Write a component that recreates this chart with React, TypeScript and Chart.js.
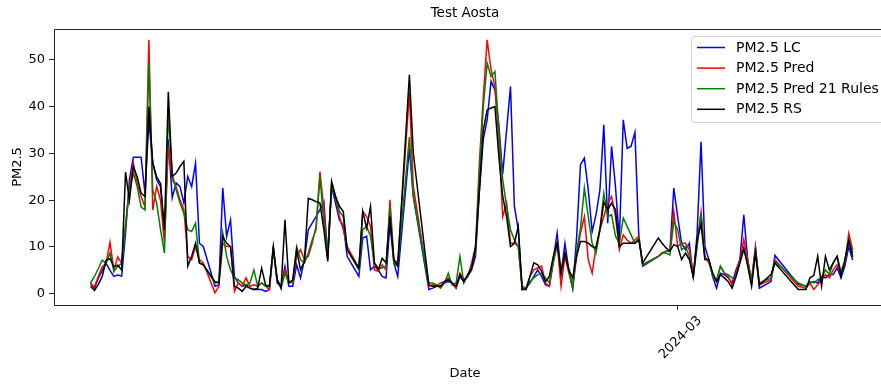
import { useEffect, useRef } from 'react';
import { Chart, registerables } from 'chart.js';

Chart.register(...registerables);

// Day offsets counted from 2023-10-01 (day 152 = 2024-03-01)
const START_DATE = '2023-10-01';
const days = [
  1, 2, 3, 4, 5, 6, 7, 8, 9, 10,
  11, 12, 13, 14, 15, 16, 17, 18, 19, 20,
  21, 22, 23, 24, 25, 26, 27, 28, 29, 30,
  33, 34, 35, 36, 37, 38, 39, 40, 41, 42,
  43, 44, 45, 46, 47, 48, 49, 50, 51, 52,
  53, 54, 55, 56, 57, 58, 59, 60, 61, 62,
  63, 64, 65, 66, 67, 70, 71, 72, 73, 74,
  75, 76, 77, 78, 79, 80, 83, 84, 88, 89,
  90, 91, 92, 93, 94, 95, 96, 97, 98, 99,
  100, 101, 102, 103, 104, 105, 106, 107, 108, 109,
  110, 111, 112, 113, 114, 115, 116, 117, 118, 119,
  120, 121, 122, 123, 124, 125, 126, 127, 128, 129,
  130, 131, 132, 133, 134, 135, 136, 137, 138, 139,
  140, 141, 142, 143, 147, 148, 149, 150, 151, 152,
  153, 154, 155, 156, 157, 158, 159, 160, 161, 162,
  163, 164, 165, 166, 167, 168, 169, 170, 171, 172,
  173, 176, 177, 183, 185, 186, 187, 188, 189, 190,
  191, 192, 193, 194, 195, 196, 197,
];

const pm25LC = [
  2.3, 1.2, 3.3, 5.0, 6.5, 5.0, 3.7, 4.0, 3.8, 12.9,
  24.4, 29.2, 29.2, 29.2, 21.5, 37.0, 28.0, 24.4, 22.9, 12.9,
  33.0, 20.5, 23.7, 22.9, 19.4, 25.1, 22.9, 27.9, 10.8, 10.1,
  1.6, 1.9, 22.6, 12.3, 15.8, 3.7, 2.3, 1.6, 1.9, 1.2,
  0.9, 0.9, 0.9, 0.5, 0.9, 10.1, 2.3, 1.6, 5.9, 1.6,
  1.6, 6.2, 3.4, 7.3, 13.7, 15.1, 16.5, 18.0, 19.7, 8.0,
  22.9, 19.4, 15.8, 14.7, 8.0, 3.7, 11.9, 12.3, 5.1, 5.9,
  5.1, 3.7, 3.4, 15.1, 6.6, 3.7, 31.0, 20.8, 0.9, 1.2,
  1.6, 1.6, 2.3, 2.6, 2.3, 1.2, 3.7, 2.6, 3.7, 5.1,
  8.0, 22.0, 33.0, 37.2, 45.4, 43.6, 36.1, 25.6, 35.0, 44.3,
  18.7, 13.7, 0.9, 1.2, 2.3, 3.7, 5.1, 3.7, 1.9, 1.6,
  7.3, 13.0, 4.1, 10.8, 5.1, 1.2, 12.0, 27.6, 29.0, 22.2,
  13.3, 16.9, 22.2, 36.1, 15.1, 31.5, 22.9, 11.5, 37.2, 31.1,
  31.5, 34.5, 12.3, 5.9, 8.0, 8.7, 9.1, 9.1, 22.6, 16.5,
  10.8, 9.4, 10.8, 3.4, 13.0, 32.5, 10.1, 7.3, 3.7, 1.2,
  4.4, 4.1, 3.4, 2.3, 5.1, 7.3, 16.9, 7.3, 2.3, 9.8,
  1.2, 2.6, 8.2, 2.0, 1.6, 2.3, 2.6, 2.3, 3.7, 3.4,
  4.1, 4.1, 5.5, 3.4, 5.9, 10.1, 7.2,
];

const pm25Pred = [
  2.0, 1.5, 3.7, 5.8, 6.5, 11.0, 5.0, 7.9, 6.5, 15.0,
  22.9, 27.9, 23.6, 20.8, 18.6, 54.3, 17.9, 23.0, 20.0, 10.8,
  31.5, 24.4, 22.9, 20.1, 18.0, 8.0, 7.3, 10.1, 7.3, 6.6,
  0.2, 1.6, 10.8, 10.1, 10.1, 0.5, 2.3, 1.6, 3.4, 1.6,
  1.9, 1.6, 2.3, 1.6, 0.9, 9.4, 3.0, 1.6, 5.1, 2.6,
  2.3, 8.0, 9.4, 7.3, 8.0, 10.8, 14.4, 26.1, 18.0, 7.3,
  23.7, 20.8, 16.5, 13.7, 10.1, 5.5, 17.6, 16.5, 14.4, 5.1,
  4.8, 6.2, 5.1, 20.1, 7.3, 6.6, 43.0, 23.0, 1.6, 1.9,
  1.7, 2.3, 2.6, 3.4, 2.3, 1.2, 4.4, 3.0, 3.7, 6.6,
  10.0, 28.0, 42.0, 54.3, 47.9, 44.3, 32.9, 16.5, 19.4, 10.8,
  10.8, 10.1, 0.9, 1.2, 3.7, 5.1, 5.5, 5.9, 2.3, 1.6,
  6.6, 10.8, 1.6, 8.0, 4.4, 1.2, 8.0, 13.0, 16.5, 7.3,
  4.4, 10.1, 13.7, 16.5, 19.4, 20.8, 16.5, 9.4, 12.6, 11.5,
  10.8, 11.5, 12.3, 6.2, 8.0, 8.7, 9.1, 9.1, 17.6, 10.1,
  10.8, 10.8, 9.4, 4.1, 10.8, 17.5, 8.0, 6.6, 4.4, 2.6,
  5.9, 4.4, 3.7, 1.9, 4.4, 7.3, 11.6, 7.3, 3.0, 10.1,
  1.9, 3.0, 7.3, 1.6, 1.2, 2.3, 0.9, 1.9, 3.0, 4.1,
  3.4, 5.1, 6.2, 4.1, 6.6, 12.9, 9.4,
];

const pm25Pred21 = [
  2.3, 3.7, 5.4, 7.2, 6.5, 8.7, 4.8, 5.8, 6.5, 14.4,
  22.2, 25.8, 22.9, 18.6, 17.9, 49.6, 22.2, 19.4, 13.7, 8.7,
  38.6, 25.8, 22.2, 19.4, 17.2, 13.7, 13.3, 15.1, 6.6, 6.2,
  2.3, 2.6, 13.0, 8.0, 5.1, 3.4, 3.0, 2.3, 1.9, 2.3,
  5.1, 1.6, 2.3, 1.6, 1.6, 9.4, 3.0, 1.2, 4.4, 2.3,
  2.6, 10.1, 7.3, 6.6, 8.7, 11.5, 13.7, 25.1, 15.1, 9.4,
  22.9, 20.8, 17.6, 16.5, 9.4, 5.1, 13.7, 14.4, 12.3, 6.6,
  5.5, 5.5, 5.9, 18.7, 6.6, 5.9, 33.5, 20.8, 2.3, 2.3,
  1.9, 1.2, 2.3, 4.4, 1.9, 2.3, 8.0, 2.3, 4.1, 5.5,
  9.0, 26.0, 40.0, 49.3, 46.4, 47.5, 35.0, 24.4, 18.7, 13.7,
  11.5, 10.1, 1.6, 1.2, 2.6, 3.4, 4.1, 4.4, 3.4, 2.3,
  6.6, 10.8, 5.1, 8.7, 5.1, 1.2, 9.0, 14.0, 22.6, 16.5,
  10.8, 8.7, 13.7, 21.5, 16.5, 16.9, 12.3, 10.8, 16.2, 14.4,
  12.6, 10.8, 11.9, 6.2, 8.0, 8.7, 8.7, 8.3, 15.5, 13.7,
  9.4, 10.1, 8.0, 3.4, 10.1, 17.2, 7.3, 7.3, 3.7, 3.0,
  5.9, 4.4, 4.1, 3.4, 3.7, 6.6, 9.4, 6.6, 2.6, 9.4,
  2.3, 3.4, 6.9, 2.3, 1.6, 2.6, 2.3, 3.0, 3.4, 5.1,
  4.1, 6.6, 8.0, 4.8, 6.9, 11.5, 8.7,
];

const pm25RS = [
  1.6, 0.7, 2.0, 3.7, 7.2, 7.5, 5.8, 6.1, 5.1, 26.0,
  20.0, 27.2, 25.0, 21.5, 20.8, 40.0, 27.9, 25.0, 23.6, 13.7,
  43.2, 25.1, 25.8, 27.2, 28.3, 5.9, 8.0, 10.8, 6.6, 6.2,
  2.6, 2.3, 12.3, 10.8, 10.1, 1.6, 1.2, 0.5, 1.6, 1.2,
  0.9, 1.2, 5.5, 1.9, 1.6, 10.1, 3.0, 1.2, 15.8, 2.3,
  3.0, 9.4, 5.1, 6.9, 20.4, 20.1, 19.7, 19.4, 13.7, 6.9,
  24.0, 20.8, 18.7, 17.6, 9.4, 5.5, 17.6, 14.0, 18.7, 6.6,
  5.1, 7.6, 6.6, 16.5, 7.3, 5.9, 46.8, 30.1, 1.9, 1.6,
  1.6, 1.6, 2.6, 3.0, 2.3, 1.6, 4.1, 2.6, 4.1, 5.5,
  10.0, 22.0, 35.0, 39.3, 39.7, 40.0, 29.4, 20.8, 16.5, 10.1,
  10.8, 14.4, 0.9, 0.9, 3.7, 6.6, 6.2, 4.8, 2.6, 3.7,
  8.0, 10.8, 4.4, 8.7, 5.1, 3.4, 8.0, 11.2, 11.2, 10.8,
  10.1, 9.8, 13.7, 19.6, 18.0, 19.4, 18.0, 10.1, 10.8, 10.8,
  10.8, 10.8, 11.5, 6.6, 11.9, 10.8, 9.8, 9.1, 10.5, 10.1,
  7.3, 8.7, 7.3, 3.7, 11.5, 14.9, 7.3, 7.3, 4.4, 2.6,
  4.1, 3.4, 2.6, 1.2, 3.7, 6.6, 9.8, 5.9, 1.6, 8.7,
  1.9, 4.1, 6.6, 0.9, 0.9, 3.4, 3.9, 8.0, 1.6, 8.0,
  5.1, 6.6, 8.0, 3.7, 7.3, 11.5, 7.9,
];

const seriesLabels = ['PM2.5 LC', 'PM2.5 Pred', 'PM2.5 Pred 21 Rules', 'PM2.5 RS'];
const seriesColors = ['#0000ff', '#ff0000', '#008000', '#000000'];
const xTickDays = [152];
const xTickLabels = ['2024-03'];
const yTicks = [0, 10, 20, 30, 40, 50];

const FONT = 'DejaVu Sans';

// Axes frame: left, top and bottom spines (right spine lies outside the visible picture)
const framePlugin = {
  id: 'frame',
  afterDatasetsDraw(chart: any) {
    const { ctx, chartArea, width } = chart;
    const l = Math.round(chartArea.left) + 0.5;
    const t = Math.round(chartArea.top) + 0.5;
    const b = Math.round(chartArea.bottom) + 0.5;
    ctx.save();
    ctx.strokeStyle = '#222';
    ctx.lineWidth = 1;
    ctx.beginPath();
    ctx.moveTo(width, t);
    ctx.lineTo(l, t);
    ctx.lineTo(l, b);
    ctx.lineTo(width, b);
    ctx.stroke();
    ctx.restore();
  },
};

const boxLegendPlugin = {
  id: 'boxLegend',
  afterDraw(chart: any) {
    const { ctx } = chart;
    const x0 = 691.5;
    const y0 = 36.5;
    const w = 205;
    const h = 86;
    const rad = 3;
    ctx.save();
    ctx.beginPath();
    ctx.moveTo(x0 + rad, y0);
    ctx.lineTo(x0 + w - rad, y0);
    ctx.arcTo(x0 + w, y0, x0 + w, y0 + rad, rad);
    ctx.lineTo(x0 + w, y0 + h - rad);
    ctx.arcTo(x0 + w, y0 + h, x0 + w - rad, y0 + h, rad);
    ctx.lineTo(x0 + rad, y0 + h);
    ctx.arcTo(x0, y0 + h, x0, y0 + h - rad, rad);
    ctx.lineTo(x0, y0 + rad);
    ctx.arcTo(x0, y0, x0 + rad, y0, rad);
    ctx.closePath();
    ctx.fillStyle = 'rgba(255,255,255,0.8)';
    ctx.fill();
    ctx.strokeStyle = '#d0d0d0';
    ctx.lineWidth = 1;
    ctx.stroke();
    ctx.font = `14px "${FONT}"`;
    ctx.textBaseline = 'middle';
    ctx.textAlign = 'left';
    chart.data.datasets.forEach((ds: any, i: number) => {
      const y = 47.5 + i * 20.6;
      ctx.beginPath();
      ctx.strokeStyle = ds.borderColor;
      ctx.lineWidth = 1.5;
      ctx.moveTo(697, y);
      ctx.lineTo(725, y);
      ctx.stroke();
      ctx.fillStyle = '#000';
      ctx.fillText(ds.label, 736, y + 0.5);
    });
    ctx.restore();
  },
};

export default function App() {
  const canvasRef = useRef<HTMLCanvasElement | null>(null);

  useEffect(() => {
    document.body.style.margin = '0';
    const canvas = canvasRef.current;
    if (!canvas) return;
    const seriesValues = [pm25LC, pm25Pred, pm25Pred21, pm25RS];
    const datasets = seriesValues.map((vals, i) => ({
      label: seriesLabels[i],
      data: days.map((d, j) => ({ x: d, y: vals[j] })),
      borderColor: seriesColors[i],
      backgroundColor: seriesColors[i],
      borderWidth: 1.5,
      pointRadius: 0,
      pointHoverRadius: 0,
      tension: 0,
      fill: false,
      order: 4 - i,
    }));

    const chart = new Chart(canvas, {
      type: 'line',
      data: { datasets },
      plugins: [framePlugin, boxLegendPlugin],
      options: {
        responsive: false,
        animation: false,
        devicePixelRatio: 1,
        layout: { padding: { left: 0, right: 5, top: 0, bottom: 0 } },
        plugins: {
          legend: { display: false },
          tooltip: { enabled: false },
          title: {
            display: true,
            text: 'Test Aosta',
            fullSize: false,
            color: '#000',
            font: { family: FONT, size: 13.5, weight: 'normal' },
            padding: { top: 5.5, bottom: 7.3 },
          },
        },
        scales: {
          x: {
            type: 'linear',
            min: -8.4,
            max: 203.0,
            afterBuildTicks: (scale: any) => {
              scale.ticks = xTickDays.map((v) => ({ value: v }));
            },
            afterFit: (scale: any) => {
              scale.height = 82;
            },
            grid: {
              display: true,
              drawOnChartArea: false,
              drawTicks: true,
              tickLength: 5,
              color: '#222',
              lineWidth: 1,
            },
            border: { display: false },
            ticks: {
              autoSkip: false,
              minRotation: 45,
              maxRotation: 45,
              padding: 3,
              labelOffset: 22,
              color: '#000',
              font: { family: FONT, size: 13 },
              callback: (value: any) => {
                const k = xTickDays.indexOf(Number(value));
                return k >= 0 ? xTickLabels[k] : '';
              },
            },
            title: {
              display: true,
              text: 'Date',
              color: '#000',
              font: { family: FONT, size: 13 },
              padding: { top: 0, bottom: 6 },
            },
          },
          y: {
            type: 'linear',
            min: -2.4,
            max: 56.6,
            afterBuildTicks: (scale: any) => {
              scale.ticks = yTicks.map((v) => ({ value: v }));
            },
            afterFit: (scale: any) => {
              scale.width = 54;
            },
            grid: {
              display: true,
              drawOnChartArea: false,
              drawTicks: true,
              tickLength: 5,
              color: '#222',
              lineWidth: 1,
            },
            border: { display: false },
            ticks: {
              padding: 4,
              color: '#000',
              font: { family: FONT, size: 13 },
            },
            title: {
              display: true,
              text: 'PM2.5',
              color: '#000',
              font: { family: FONT, size: 13 },
              padding: { top: 10, bottom: 0 },
            },
          },
        },
      },
    });
    return () => chart.destroy();
  }, []);

  return (
    <div style={{ width: 881, height: 387, overflow: 'hidden', position: 'relative' }} data-start={START_DATE}>
      <canvas ref={canvasRef} width={881} height={387} style={{ display: 'block' }} />
    </div>
  );
}
